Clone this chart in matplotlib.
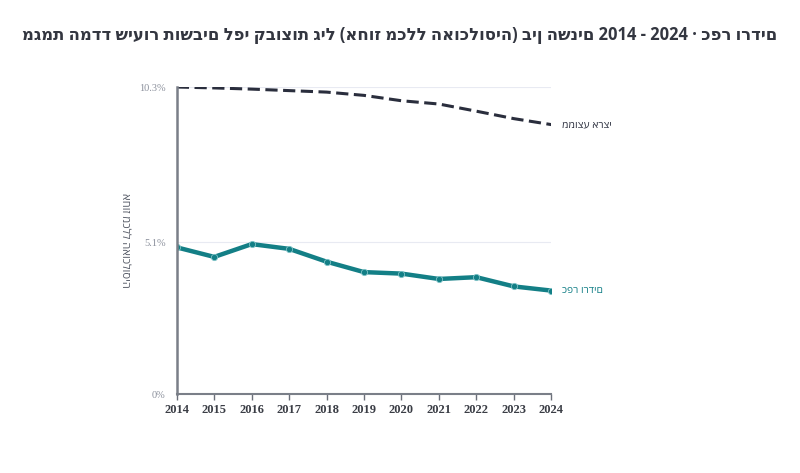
import matplotlib.pyplot as plt

years = [2014, 2015, 2016, 2017, 2018, 2019, 2020, 2021, 2022, 2023, 2024]
kfar_vradim = [4.92, 4.60, 5.03, 4.87, 4.44, 4.09, 4.04, 3.86, 3.92, 3.61, 3.47]
national = [10.30, 10.27, 10.23, 10.18, 10.13, 10.02, 9.84, 9.73, 9.49, 9.24, 9.04]
ytick_vals = [0, 5.1, 10.3]
ytick_labels = ['0%', '5.1%', '10.3%']

title = 'מגמת המדד שיעור תושבים לפי קבוצות גיל (אחוז מכלל האוכלוסיה) בין השנים 2014 - 2024 · כפר ורדים'
ylabel = 'אחוז מכלל האוכלוסיה'
label_local = 'כפר ורדים'
label_nat = 'ממוצע ארצי'

teal = '#137f86'
dark = '#2a2e3d'
sans = ['Open Sans', 'DejaVu Sans']
serif = ['Liberation Serif', 'DejaVu Serif']

fig = plt.figure(figsize=(8, 4.73), dpi=100)
ax = fig.add_axes([0.221, 0.167, 0.468, 0.649])

ax.plot(years, national, color=dark, lw=2.2, ls=(0, (4, 1.8)))
ax.plot(years, kfar_vradim, color=teal, lw=3.2, marker='o', ms=4.5,
        mfc=teal, mec='#7fc3c7', mew=0.6)

ax.set_xlim(2014, 2024)
ax.set_ylim(0, 10.3)
ax.set_xticks(years)
ax.set_xticklabels([str(y) for y in years], family=serif, weight='bold',
                   fontsize=9, color='#3a3d45')
ax.set_yticks(ytick_vals)
ax.set_yticklabels(ytick_labels, family=serif, fontsize=7.5, color='#8b909c')
ax.tick_params(axis='y', length=0, pad=8)
ax.tick_params(axis='x', length=4, width=1, color='#6b707a', pad=3)
ax.grid(axis='y', color='#e8eaf2', lw=0.8)
ax.set_axisbelow(True)

for s in ['top', 'right']:
    ax.spines[s].set_visible(False)
ax.spines['left'].set_color('#7a7f88')
ax.spines['left'].set_linewidth(1.8)
ax.spines['bottom'].set_color('#7a7f88')
ax.spines['bottom'].set_linewidth(1.5)

ax.text(-0.14, 0.5, ylabel, transform=ax.transAxes, rotation=-90,
        ha='center', va='center', fontsize=8, color='#555a66', family=sans)

ax.annotate(label_nat, xy=(years[-1], national[-1]), xytext=(8, 0),
            textcoords='offset points', ha='left', va='center',
            fontsize=7.5, color=dark, family=sans, annotation_clip=False)
ax.annotate(label_local, xy=(years[-1], kfar_vradim[-1]), xytext=(8, 0),
            textcoords='offset points', ha='left', va='center',
            fontsize=7.5, color=teal, family=sans, annotation_clip=False)

fig.text(0.5, 0.925, title, ha='center', va='center', fontsize=11.9,
         weight='bold', color='#333640', family=sans)

fig.savefig('out.png', dpi=100)
